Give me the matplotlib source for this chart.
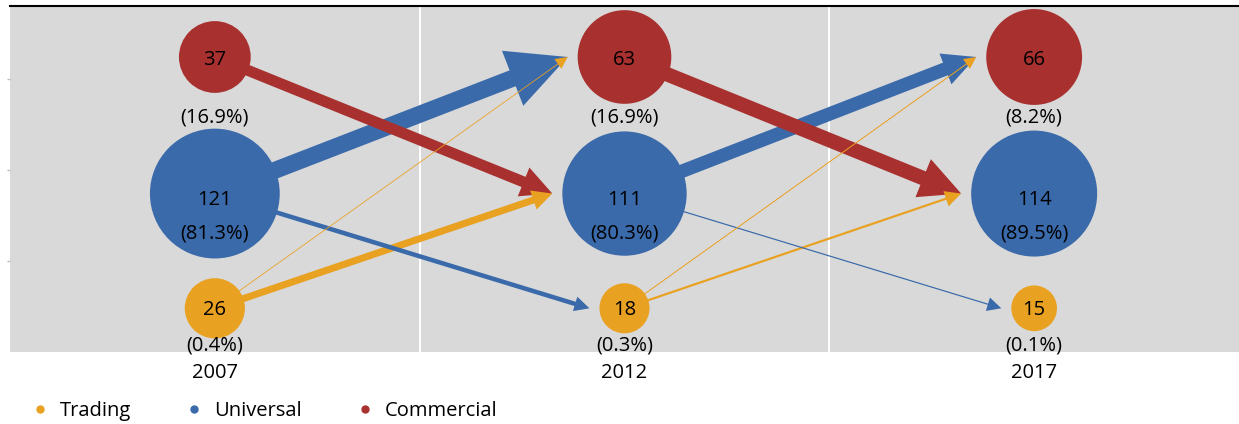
import numpy as np
import matplotlib.pyplot as plt
from matplotlib.lines import Line2D
from matplotlib.patches import Polygon

plt.rcParams['font.family'] = ['Open Sans', 'DejaVu Sans']

years = ['2007', '2012', '2017']
bank_types = ['Trading', 'Universal', 'Commercial']

trading_banks = [26, 18, 15]
universal_banks = [121, 111, 114]
commercial_banks = [37, 63, 66]

trading_share = [0.4, 0.3, 0.1]
universal_share = [81.3, 80.3, 89.5]
commercial_share = [16.9, 16.9, 8.2]

# migrations between periods:
# (start period, from type, to type, shaft width px, head size px)
flows = [
    (0, 'Universal', 'Commercial', 17, 59),
    (0, 'Commercial', 'Universal', 11, 31),
    (0, 'Trading', 'Universal', 7, 20),
    (0, 'Universal', 'Trading', 4.5, 15),
    (0, 'Trading', 'Commercial', 0.8, 12),
    (1, 'Universal', 'Commercial', 13.5, 33),
    (1, 'Commercial', 'Universal', 14.5, 41),
    (1, 'Trading', 'Universal', 2.2, 16),
    (1, 'Universal', 'Trading', 1.2, 14),
    (1, 'Trading', 'Commercial', 1.0, 12),
]

counts = {'Trading': trading_banks, 'Universal': universal_banks, 'Commercial': commercial_banks}
shares = {'Trading': trading_share, 'Universal': universal_share, 'Commercial': commercial_share}
colors = {'Trading': '#E9A122', 'Universal': '#3A6AAA', 'Commercial': '#A8312F'}
row_y = {'Trading': 0.48, 'Universal': 1.74, 'Commercial': 3.24}
# label offsets below the bubble centre, in pixels (count, share)
label_off = {'Trading': (0, 35), 'Universal': (4, 38), 'Commercial': (1, 58)}

FS = 14.5
DPI = 100


def radius(v):
    return 5.9 * np.sqrt(v)


fig = plt.figure(figsize=(12.39, 4.24), dpi=DPI)
ax = fig.add_axes([10 / 1239, 72 / 424, 1229 / 1239, 346 / 424])
ax.set_xlim(-0.5, 2.5)
ax.set_ylim(0, 3.8)
ax.set_facecolor('#D9D9D9')

for side in ['left', 'right', 'bottom']:
    ax.spines[side].set_visible(False)
ax.spines['top'].set_color('black')
ax.spines['top'].set_linewidth(1.5)

ax.set_yticks([1, 2, 3])
ax.tick_params(axis='y', length=2, width=1, color='#BFBFBF', labelleft=False)
ax.set_xticks([0, 1, 2], years)
ax.tick_params(axis='x', length=0, pad=8, labelsize=FS)

for gx in [0.5, 1.5]:
    ax.axvline(gx, color='white', lw=1.4, zorder=1)


def draw_flow(i, src, dst, w, hw):
    s = ax.transData.transform((i, row_y[src]))
    t = ax.transData.transform((i + 1, row_y[dst]))
    tip = t - np.array([radius(counts[dst][i + 1]) + 10, 0])
    d = tip - s
    u = d / np.hypot(*d)
    n = np.array([-u[1], u[0]])
    base = tip - u * hw
    pts = [s + n * w / 2, base + n * w / 2, base + n * hw / 2, tip,
           base - n * hw / 2, base - n * w / 2, s - n * w / 2]
    pts = ax.transData.inverted().transform(pts)
    ax.add_patch(Polygon(pts, closed=True, facecolor=colors[src],
                         edgecolor='none', zorder=2))


for i, src, dst, w, hw in flows:
    draw_flow(i, src, dst, w, hw)

xs = np.arange(len(years))
for t in bank_types:
    sizes = [(2 * radius(v) * 72 / DPI) ** 2 for v in counts[t]]
    ax.scatter(xs, [row_y[t]] * len(xs), s=sizes, color=colors[t],
               linewidths=0, zorder=3)
    c_off, p_off = label_off[t]
    for x, v, p in zip(xs, counts[t], shares[t]):
        ax.annotate(str(v), (x, row_y[t]), xytext=(0, -c_off - 7.2),
                    textcoords='offset pixels', ha='center', va='baseline',
                    fontsize=FS, color='black', zorder=4)
        ax.annotate(f'({p:.1f}%)', (x, row_y[t]), xytext=(0, -p_off - 7.2),
                    textcoords='offset pixels', ha='center', va='baseline',
                    fontsize=FS, color='black', zorder=4)

handles = [Line2D([], [], marker='o', ls='', color=colors[t], ms=5) for t in bank_types]
fig.legend(handles, bank_types, loc='center left', bbox_to_anchor=(30 / 1239, 13 / 424),
           ncol=3, frameon=False, fontsize=FS, handlelength=1, handletextpad=0.5,
           columnspacing=2.62, borderpad=0, borderaxespad=0)

fig.savefig('out.png', dpi=DPI)
